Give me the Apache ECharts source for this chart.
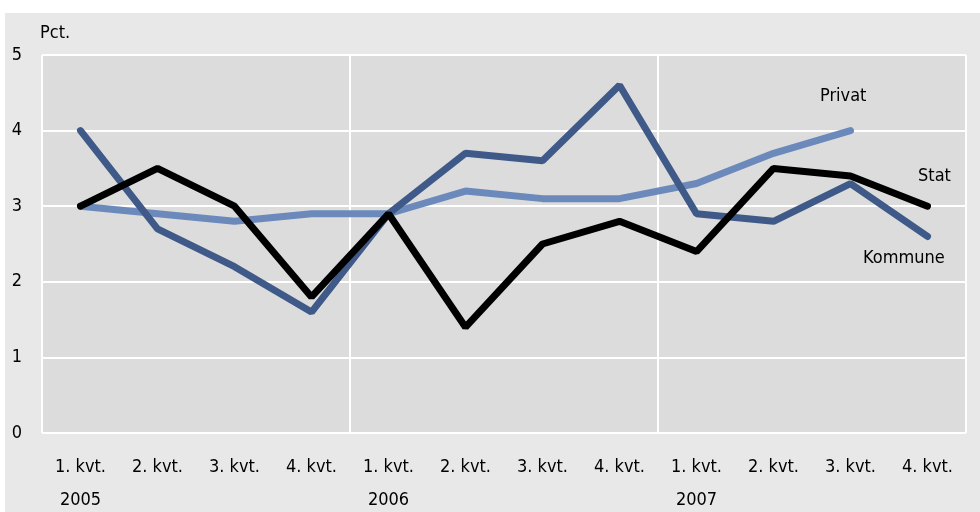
<!DOCTYPE html>
<html><head><meta charset="utf-8">
<script src="https://cdn.jsdelivr.net/npm/echarts@6/dist/echarts.min.js"></script>
<style>html,body{margin:0;padding:0;background:#fff}#c{width:980px;height:512px}</style>
</head><body><div id="c"></div>
<script>
const categories = ['1. kvt.','2. kvt.','3. kvt.','4. kvt.','1. kvt.','2. kvt.','3. kvt.','4. kvt.','1. kvt.','2. kvt.','3. kvt.','4. kvt.'];
const years = ['2005','','','','2006','','','','2007','','',''];
const kommune = [4.0, 2.7, 2.2, 1.6, 2.9, 3.7, 3.6, 4.6, 2.9, 2.8, 3.3, 2.6];
const privat = [3.0, 2.9, 2.8, 2.9, 2.9, 3.2, 3.1, 3.1, 3.3, 3.7, 4.0, null];
const stat = [3.0, 3.5, 3.0, 1.8, 2.9, 1.4, 2.5, 2.8, 2.4, 3.5, 3.4, 3.0];
const yTicks = [0, 1, 2, 3, 4, 5];

const FONT = '"Liberation Sans Narrow", "DejaVu Sans Condensed", "Roboto", sans-serif';
const chart = echarts.init(document.getElementById('c'), null, {renderer: 'canvas'});
const labels = categories.map((c, i) => years[i] ? c + '\n' + years[i] : c);
chart.setOption({
  animation: false,
  backgroundColor: '#ffffff',
  graphic: [
    {type: 'rect', z: -10, shape: {x: 5, y: 13, width: 975, height: 499}, style: {fill: '#e8e8e8'}},
    {type: 'text', x: 40, y: 33, style: {text: 'Pct.', font: '18px ' + FONT, fill: '#000', textVerticalAlign: 'middle'}},
    {type: 'text', x: 820, y: 96, style: {text: 'Privat', font: '18px ' + FONT, fill: '#000', textVerticalAlign: 'middle'}},
    {type: 'text', x: 918, y: 176, style: {text: 'Stat', font: '18px ' + FONT, fill: '#000', textVerticalAlign: 'middle'}},
    {type: 'text', x: 863, y: 258, style: {text: 'Kommune', font: '18px ' + FONT, fill: '#000', textVerticalAlign: 'middle'}}
  ],
  grid: {left: 42, right: 14, top: 55, bottom: 79, show: true, backgroundColor: '#dcdcdc', borderWidth: 0, outerBoundsMode: 'none', containLabel: false},
  xAxis: {
    type: 'category', data: labels, boundaryGap: true,
    axisLine: {show: false}, axisTick: {show: false},
    axisLabel: {color: '#000', fontSize: 18, fontFamily: FONT, margin: 18, lineHeight: 33, interval: 0},
    splitLine: {show: true, interval: function (i) { return i % 4 === 0; }, lineStyle: {color: '#ffffff', width: 2}}
  },
  yAxis: {
    type: 'value', min: 0, max: 5, interval: 1,
    axisLine: {show: false}, axisTick: {show: false},
    axisLabel: {color: '#000', fontSize: 18, fontFamily: FONT, margin: 20, formatter: v => yTicks.includes(v) ? String(v) : ''},
    splitLine: {show: true, lineStyle: {color: '#ffffff', width: 2}}
  },
  series: [
    {name: 'Privat', type: 'line', data: privat, symbol: 'none', lineStyle: {color: '#6b89bb', width: 7, cap: 'round'}, z: 2},
    {name: 'Kommune', type: 'line', data: kommune, symbol: 'none', lineStyle: {color: '#3f5a88', width: 7, cap: 'round'}, z: 3},
    {name: 'Stat', type: 'line', data: stat, symbol: 'none', lineStyle: {color: '#000000', width: 7, cap: 'round'}, z: 4}
  ]
});
</script></body></html>
